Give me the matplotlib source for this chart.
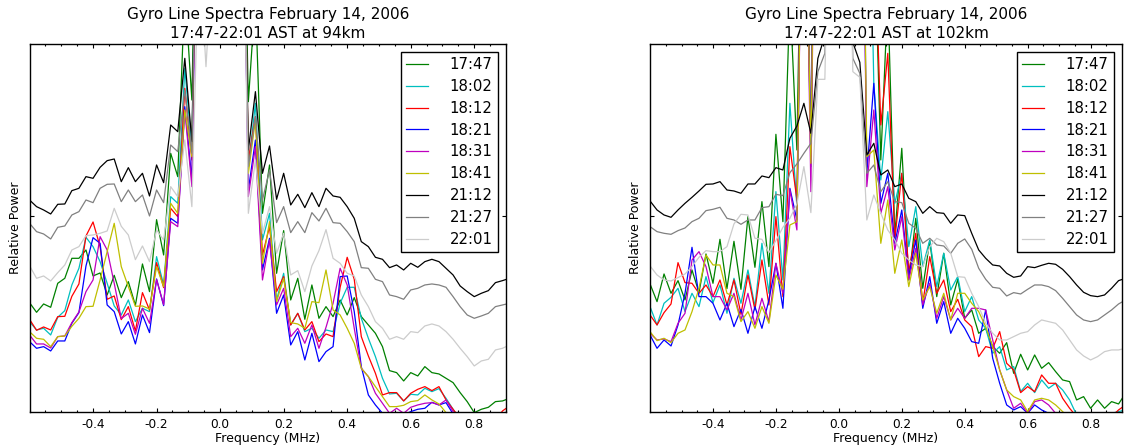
import numpy as np
import matplotlib

matplotlib.use("Agg")
import matplotlib.pyplot as plt
from matplotlib.ticker import MultipleLocator, FixedLocator, FormatStrFormatter

plt.rcParams["axes.unicode_minus"] = False

# FFT bin centres, 1/45 MHz apart, bins -27..41
FREQ = np.arange(-27, 42) / 45.0

TIMES = ["17:47", "18:02", "18:12", "18:21", "18:31", "18:41", "21:12", "21:27", "22:01"]
COLOURS = ["g", "c", "r", "b", "m", "y", "k", "0.5", "0.8"]

# relative power, 94 km (values above ~110 run off the top of the plot)
P94_1747 = [32.9, 30.0, 32.5, 31.5, 38.7, 40.2, 46.2, 46.2, 48.7, 40.9, 41.8, 35.2, 41.1, 34.4, 39.2, 32.1, 44.5, 36.2, 57.8, 47.2,
            77.7, 70.7, 127, 93.7, 200, 280, 340, 380, 340, 280, 200,
            93.2, 125, 59.7, 74.2, 41.7, 54.5, 33.7, 40.2, 27.9, 38.2, 28.2, 31.7, 28.7, 33.7, 29.2, 34.4, 28.7, 26.2, 23.7, 19.7,
            12.5, 11.9, 9.4, 11.9, 10.9, 13.7, 11.9, 11.5, 10.2, 8.9, 5.9, 3.2, -0.1, 0.9, 1.5, 3.2, 3.4, 4.2]
P94_1802 = [27.2, 24.7, 25.2, 23.2, 28.5, 30.5, 38.2, 43.2, 52.5, 49.7, 45.2, 38.7, 31.9, 29.2, 33.7, 27.2, 31.2, 30.2, 46.7, 38.2,
            64.7, 62.7, 103.2, 78.7, 200, 280, 340, 380, 340, 280, 200,
            73.7, 92.7, 51.7, 59.7, 33.7, 41.7, 26.2, 29.7, 24.2, 25.2, 22.2, 24.7, 24.2, 32.7, 37.5, 37.5, 28.2, 22.2, 16.7, 10.2,
            5.5, 5.7, 3.4, 5.4, 5.2, 7.2, 6.2, 7.1, 4.2, 0.9, -2.3, -5.3, -7.3, -7.3, -6.3, -5.3, -4.3, -3.8]
P94_1812 = [27.9, 24.6, 25.6, 24.7, 28.7, 28.8, 34.8, 38.5, 52.9, 57.1, 49.7, 33.9, 34.9, 27.8, 31.7, 24.4, 35.9, 30.7, 44.9, 37.4,
            61.2, 58.7, 97.2, 75.7, 200, 280, 340, 380, 340, 280, 200,
            75.7, 88.7, 47.2, 55.7, 36.2, 40.7, 26.2, 29.7, 24.7, 27.2, 21.2, 23.5, 22.7, 37.5, 46.5, 39.9, 22.7, 16.9, 11.7, 5.2,
            5.9, 5.9, 3.4, 5.7, 6.9, 7.7, 6.5, 7.7, 3.7, 0.9, -1.8, -4.3, -6.3, -6.3, -5.3, -2.5, 0.4, 1.9]
P94_1821 = [21.2, 19.2, 19.7, 18.4, 21.4, 21.4, 26.7, 29.9, 43.9, 52.4, 50.7, 32.2, 30.2, 23.5, 27.2, 20.5, 29.2, 23.9, 40.0, 32.0,
            58.2, 56.7, 91.7, 69.7, 200, 280, 340, 380, 340, 280, 200,
            66.7, 81.7, 42.7, 52.2, 29.7, 35.2, 20.2, 24.2, 15.7, 23.7, 15.2, 18.2, 19.7, 40.7, 40.9, 30.2, 13.7, 5.2, 2.2, -0.3,
            -1.8, -2.3, -0.8, 0.2, 0.9, 1.2, 3.0, 2.2, 2.9, -0.5, -3.3, -5.3, -7.3, -8.3, -8.3, -8.3, -8.3, -8.3]
P94_1831 = [23.2, 20.5, 20.5, 19.3, 22.7, 22.9, 26.9, 30.1, 36.2, 39.7, 52.7, 48.7, 38.7, 28.1, 29.7, 23.4, 31.2, 26.7, 39.8, 32.3,
            57.2, 55.7, 90.7, 67.7, 200, 280, 340, 380, 340, 280, 200,
            64.7, 79.7, 39.7, 51.7, 32.2, 37.2, 22.7, 25.2, 20.7, 26.2, 19.2, 25.5, 32.7, 43.2, 38.2, 25.2, 13.2, 10.7, 5.7, 2.7,
            -0.3, 1.2, -0.3, 1.5, 2.2, 2.7, 2.9, 2.2, 3.7, 0.2, -2.3, -5.3, -7.3, -8.3, -8.3, -8.3, -8.3, -8.3]
P94_1841 = [24.2, 22.2, 21.9, 19.7, 22.7, 22.9, 25.8, 28.2, 31.7, 31.8, 39.7, 48.2, 56.7, 43.7, 37.7, 31.8, 31.9, 31.0, 43.7, 37.7,
            62.7, 59.7, 90.7, 76.7, 200, 280, 340, 380, 340, 280, 200,
            71.7, 87.7, 44.7, 57.2, 33.2, 40.2, 26.9, 26.5, 25.2, 33.2, 32.9, 42.7, 30.7, 29.2, 25.2, 20.7, 13.2, 10.7, 7.7, 4.7,
            1.7, 1.7, 2.1, 3.2, 3.5, 5.2, 3.7, 2.5, -0.1, -2.8, -5.3, -7.3, -8.3, -8.3, -8.3, -8.3, -8.3, -8.3]
P94_2112 = [63.7, 61.7, 60.7, 59.5, 62.4, 62.5, 66.5, 67.2, 70.7, 70.2, 73.5, 75.5, 76.0, 69.2, 73.4, 69.2, 71.7, 64.9, 74.2, 68.9,
            86.2, 84.2, 106.2, 81.2, 200, 280, 340, 380, 340, 280, 200,
            78.7, 96.2, 71.7, 79.9, 63.9, 71.7, 62.2, 65.4, 61.4, 65.9, 61.7, 67.2, 64.9, 64.5, 61.7, 58.2, 51.2, 49.7, 46.5, 45.9,
            43.4, 44.2, 42.7, 44.7, 43.5, 45.2, 45.9, 45.2, 43.2, 41.2, 37.9, 36.2, 34.7, 35.7, 36.5, 38.9, 39.5, 40.2]
P94_2127 = [56.7, 54.2, 53.5, 52.0, 55.5, 55.9, 59.2, 60.2, 63.7, 62.9, 67.2, 68.4, 68.5, 63.2, 66.7, 63.2, 65.2, 58.9, 66.7, 62.9,
            80.2, 78.2, 96.7, 77.7, 200, 280, 340, 380, 340, 280, 200,
            73.7, 88.7, 63.7, 72.7, 56.9, 61.7, 53.9, 57.2, 53.9, 59.9, 57.4, 61.2, 56.9, 56.7, 54.2, 51.2, 43.4, 43.2, 39.9, 39.2,
            35.2, 34.7, 33.9, 36.7, 37.2, 38.2, 38.5, 38.2, 37.5, 34.7, 31.7, 29.2, 28.2, 28.9, 29.7, 31.7, 32.2, 32.7]
P94_2201 = [44.0, 40.2, 40.9, 39.4, 41.9, 44.2, 48.7, 49.7, 53.0, 53.2, 53.7, 54.4, 61.2, 55.8, 53.2, 45.8, 49.9, 45.2, 54.7, 51.7,
            67.7, 64.7, 81.7, 61.7, 140, 103.7, 140, 380, 340, 280, 200,
            59.7, 75.7, 53.7, 61.7, 47.7, 53.7, 41.2, 42.5, 36.2, 43.9, 48.5, 54.8, 46.2, 44.7, 41.7, 40.9, 35.2, 31.7, 27.2, 25.2,
            21.9, 22.7, 21.9, 24.2, 23.9, 25.9, 26.5, 25.9, 24.2, 21.9, 19.2, 16.7, 13.9, 15.4, 15.9, 18.7, 19.2, 20.2]

# relative power, 102 km
P102_1747 = [38.5, 33.2, 41.5, 35.7, 39.5, 33.7, 42.7, 35.9, 47.5, 38.7, 51.9, 37.1, 51.3, 36.9, 58.7, 43.5, 63.2, 43.7, 83.4, 57.2,
             125, 78.7, 200, 250, 300, 350, 380, 400, 380, 350, 300,
             200, 150, 75.7, 125, 53.2, 79.2, 39.7, 58.2, 37.2, 51.5, 34.7, 47.7, 32.2, 39.9, 28.2, 30.7, 23.7, 25.2, 19.7, 17.7,
             20.9, 11.7, 17.4, 12.7, 17.2, 13.2, 14.9, 12.2, 9.7, 9.2, 3.7, 4.7, 1.2, 3.7, 1.2, 3.2, 2.5, 5.7]
P102_1802 = [31.7, 26.2, 32.7, 34.5, 37.2, 30.2, 35.7, 31.7, 40.7, 32.9, 38.2, 29.7, 40.2, 32.7, 42.7, 31.7, 50.7, 35.7, 66.2, 39.7,
             92.7, 61.7, 200, 73.7, 250, 300, 350, 380, 350, 300, 250,
             200, 98.7, 69.7, 90.2, 62.7, 71.7, 49.7, 61.7, 43.7, 51.7, 37.7, 47.7, 36.7, 40.7, 30.2, 34.7, 27.7, 25.2, 17.7, 19.7,
             12.7, 13.7, 6.2, 8.7, 5.9, 9.7, 7.2, 8.7, 6.7, 3.7, -0.8, -3.3, -5.3, -5.3, -3.8, -0.3, 0.2, 0.7]
P102_1812 = [29.2, 26.2, 29.9, 32.5, 44.9, 38.9, 38.7, 35.7, 38.2, 34.7, 39.7, 32.2, 39.7, 29.4, 41.2, 30.7, 45.7, 32.2, 58.7, 34.7,
             79.7, 63.7, 200, 76.7, 250, 300, 350, 380, 350, 300, 250,
             200, 150, 86.2, 107.7, 51.7, 71.7, 42.2, 53.7, 32.7, 46.7, 35.7, 39.7, 30.2, 33.9, 27.7, 25.7, 16.7, 19.7, 19.2, 24.2,
             14.7, 12.7, 5.9, 7.7, 6.2, 11.2, 8.7, 8.7, 4.2, 1.2, -1.3, -3.3, -4.8, -5.3, -4.3, -1.3, 0.7, 2.2]
P102_1821 = [23.2, 19.2, 21.7, 19.9, 26.2, 35.7, 49.5, 34.7, 34.7, 32.7, 27.7, 32.7, 25.7, 30.9, 23.7, 31.7, 25.2, 33.7, 44.7, 31.2,
             67.2, 57.7, 200, 79.7, 250, 300, 350, 380, 350, 300, 250,
             71.7, 98.7, 62.7, 71.7, 50.7, 60.7, 40.7, 51.7, 31.2, 40.7, 26.7, 33.2, 23.7, 28.2, 25.2, 21.2, 20.7, 30.7, 16.2, 8.7,
             2.2, 0.7, 1.7, -0.3, 2.2, 0.7, -0.3, -1.8, -4.3, -6.3, -7.3, -8.3, -8.3, -8.3, -8.3, -8.3, -8.3, -8.3]
P102_1831 = [23.7, 21.7, 22.0, 21.2, 26.7, 29.7, 45.7, 48.2, 43.7, 34.7, 34.7, 30.7, 35.7, 27.7, 35.7, 26.2, 34.2, 27.2, 44.7, 35.7,
             66.7, 54.7, 200, 66.2, 250, 300, 350, 380, 350, 300, 250,
             67.7, 90.7, 59.7, 67.7, 48.7, 58.7, 39.7, 49.2, 32.2, 38.7, 28.2, 34.7, 27.7, 31.2, 28.2, 31.2, 31.2, 30.7, 21.7, 12.7,
             6.7, 1.2, 2.7, -0.3, 3.2, 3.7, 2.2, -0.3, -3.3, -5.3, -7.3, -8.3, -8.3, -8.3, -8.3, -8.3, -8.3, -8.3]
P102_1841 = [24.2, 21.5, 22.2, 20.9, 23.7, 24.7, 30.2, 37.2, 47.2, 44.2, 44.2, 35.7, 34.7, 27.2, 30.2, 25.2, 31.7, 26.7, 41.2, 36.9,
             56.2, 57.2, 200, 74.7, 250, 300, 350, 380, 350, 300, 250,
             76.7, 78.7, 50.7, 63.7, 41.7, 51.7, 37.7, 47.7, 33.7, 37.7, 29.7, 35.7, 27.7, 35.7, 35.7, 32.7, 30.2, 25.7, 19.7, 12.7,
             6.7, 4.7, 3.7, 0.2, 3.7, 4.2, 3.7, 2.2, 0.2, -1.8, -4.3, -6.3, -7.3, -8.3, -8.3, -8.3, -8.3, -8.3]
P102_2112 = [63.4, 60.7, 59.2, 58.5, 60.7, 62.7, 64.5, 66.4, 68.4, 68.5, 69.2, 66.7, 66.4, 65.7, 68.5, 68.5, 70.9, 70.4, 73.4, 72.7,
             82.2, 85.9, 92.7, 83.7, 106.2, 113, 200, 300, 200, 111, 105,
             77.2, 80.7, 71.2, 72.7, 67.7, 68.5, 64.2, 63.2, 59.7, 61.7, 59.9, 59.7, 56.7, 59.2, 59.0, 53.7, 48.7, 46.2, 44.2, 43.9,
             41.7, 40.5, 40.9, 43.7, 43.4, 44.1, 44.7, 44.4, 42.9, 40.7, 38.2, 36.0, 35.0, 34.7, 35.2, 37.2, 39.5, 40.2]
P102_2127 = [55.7, 54.2, 53.7, 53.4, 54.5, 55.3, 57.2, 58.2, 60.5, 60.9, 61.5, 58.2, 57.7, 56.4, 57.7, 57.7, 61.4, 61.7, 65.4, 65.0,
             71.9, 74.5, 77.7, 80.7, 102.2, 107.7, 200, 300, 200, 106.2, 101.7,
             71.7, 74.2, 66.2, 69.2, 63.2, 62.9, 56.7, 55.2, 50.7, 52.2, 50.2, 49.9, 47.7, 50.7, 52.0, 48.9, 43.2, 39.9, 37.5, 37.2,
             34.9, 35.9, 35.5, 36.9, 38.2, 38.2, 37.7, 36.5, 34.2, 31.7, 29.2, 27.7, 27.2, 27.7, 29.2, 30.7, 32.5, 33.7]
P102_2201 = [43.9, 41.2, 39.7, 39.4, 40.4, 41.5, 43.7, 46.5, 48.5, 48.2, 48.2, 49.7, 56.5, 59.4, 59.2, 52.2, 51.9, 47.9, 51.5, 55.5,
             58.2, 62.5, 73.7, 59.9, 99.9, 99.9, 200, 300, 200, 102.2, 100.5,
             57.7, 65.2, 59.7, 54.7, 51.7, 47.7, 45.7, 44.2, 43.7, 49.7, 52.2, 51.2, 47.7, 40.7, 40.5, 35.7, 31.7, 26.7, 23.7, 21.7,
             21.7, 22.7, 23.7, 24.2, 26.2, 27.7, 27.2, 26.7, 24.7, 21.7, 18.7, 16.9, 15.7, 16.7, 18.2, 18.7, 18.7, 19.2]

PANELS = [
    ("94km", [P94_1747, P94_1802, P94_1812, P94_1821, P94_1831, P94_1841, P94_2112, P94_2127, P94_2201]),
    ("102km", [P102_1747, P102_1802, P102_1812, P102_1821, P102_1831, P102_1841, P102_2112, P102_2127, P102_2201]),
]


def draw_panel(ax, height, spectra):
    for values, label, colour in zip(spectra, TIMES, COLOURS):
        ax.plot(FREQ, values, color=colour, linewidth=0.9, label=label)

    ax.set_xlim(-0.6, 0.9)
    ax.set_ylim(0, 110.6)
    ax.xaxis.set_major_locator(FixedLocator([-0.4, -0.2, 0.0, 0.2, 0.4, 0.6, 0.8]))
    ax.xaxis.set_minor_locator(MultipleLocator(0.05))
    ax.xaxis.set_major_formatter(FormatStrFormatter("%.1f"))
    ax.set_yticks([58.9])
    ax.set_yticklabels([])
    ax.tick_params(which="both", direction="in", top=True, right=True, width=0.8)
    ax.tick_params(which="major", length=3, labelsize=8.7, pad=4)
    ax.tick_params(which="minor", length=1.5)
    for spine in ax.spines.values():
        spine.set_linewidth(1.0)

    ax.set_title("Gyro Line Spectra February 14, 2006\n17:47-22:01 AST at " + height,
                 fontsize=11, pad=4, linespacing=1.35)
    ax.set_xlabel("Frequency (MHz)", fontsize=9, labelpad=1)
    ax.set_ylabel("Relative Power", fontsize=9, labelpad=1.5)

    leg = ax.legend(loc="upper right", fontsize=10.7, handlelength=1.5, handletextpad=1.43,
                    labelspacing=0.46, borderpad=0.35, borderaxespad=0.55,
                    fancybox=False, framealpha=1.0, edgecolor="black")
    leg.get_frame().set_linewidth(1.0)


def main():
    fig = plt.figure(figsize=(11.26, 4.46), dpi=100)
    ax_left = fig.add_axes([0.0262, 0.0756, 0.4232, 0.8265])
    ax_right = fig.add_axes([0.5773, 0.0756, 0.4192, 0.8265])

    for ax, (height, spectra) in zip([ax_left, ax_right], PANELS):
        draw_panel(ax, height, spectra)

    fig.savefig("out.png", dpi=100)
    plt.close(fig)


if __name__ == "__main__":
    main()
